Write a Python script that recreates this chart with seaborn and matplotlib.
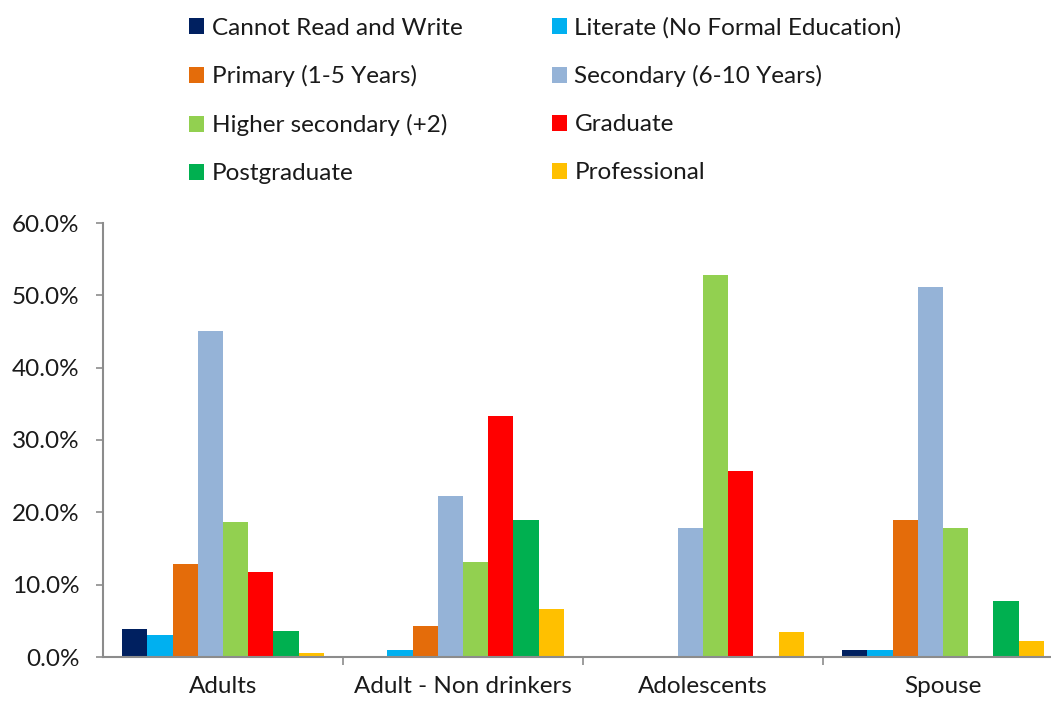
import matplotlib
matplotlib.use("Agg")
import matplotlib.pyplot as plt
import matplotlib.ticker as mticker
from matplotlib.patches import Patch
import pandas as pd
import seaborn as sns

groups = ["Adults", "Adult - Non drinkers", "Adolescents", "Spouse"]
levels = [
    "Cannot Read and Write",
    "Literate (No Formal Education)",
    "Primary (1-5 Years)",
    "Secondary (6-10 Years)",
    "Higher secondary (+2)",
    "Graduate",
    "Postgraduate",
    "Professional",
]
adults = [3.9, 3.1, 12.9, 45.1, 18.7, 11.7, 3.6, 0.5]
non_drinkers = [0.0, 1.0, 4.3, 22.2, 13.2, 33.3, 18.9, 6.6]
adolescents = [0.0, 0.0, 0.0, 17.9, 52.8, 25.7, 0.0, 3.4]
spouse = [1.0, 1.0, 18.9, 51.2, 17.8, 0.0, 7.7, 2.2]
colors = ["#002060", "#00B0F0", "#E46C0A", "#95B3D7",
          "#92D050", "#FF0000", "#00B050", "#FFC000"]
y_ticks = [0, 10, 20, 30, 40, 50, 60]

rows = []
for g, vals in zip(groups, [adults, non_drinkers, adolescents, spouse]):
    for lvl, v in zip(levels, vals):
        rows.append({"group": g, "level": lvl, "pct": v})
df = pd.DataFrame(rows)

sns.set_theme(style="white")
plt.rcParams["font.family"] = ["Lato", "DejaVu Sans"]

fs = 17.5
fig = plt.figure(figsize=(10.51, 7.02), dpi=100)
ax = fig.add_axes([103 / 1051, (702 - 657) / 702, 948 / 1051, 434 / 702])

sns.barplot(data=df, x="group", y="pct", hue="level", order=groups,
            hue_order=levels, palette=colors, width=0.84, gap=0,
            saturation=1, linewidth=0, ax=ax, legend=False)

ax.set_ylim(0, 60)
ax.set_xlim(-0.5, -0.5 + 948 / 240)
ax.set_yticks(y_ticks)
ax.yaxis.set_major_formatter(mticker.FuncFormatter(lambda v, p: f"{v:.1f}%"))
ax.set_xlabel("")
ax.set_ylabel("")

for side in ["top", "right"]:
    ax.spines[side].set_visible(False)
for side in ["left", "bottom"]:
    ax.spines[side].set_color("#8C8C8C")
    ax.spines[side].set_linewidth(1.5)

ax.tick_params(axis="y", which="major", left=True, length=5, width=1.2,
               color="#8C8C8C", pad=12, labelsize=fs, labelcolor="#1a1a1a")
ax.tick_params(axis="x", which="major", bottom=False, length=0, pad=13.5,
               labelsize=fs, labelcolor="#1a1a1a")
ax.set_xticks([0.5, 1.5, 2.5], minor=True)
ax.tick_params(axis="x", which="minor", bottom=True, length=6, width=1.2,
               color="#8C8C8C")

handles = [Patch(facecolor=c, edgecolor="none") for c in colors]
order = [0, 2, 4, 6, 1, 3, 5, 7]
fig.legend([handles[i] for i in order], [levels[i] for i in order],
           ncol=2, loc="upper left", bbox_to_anchor=(189 / 1051, 1 - 17 / 702),
           frameon=False, fontsize=fs, handlelength=0.62, handleheight=0.62,
           handletextpad=0.32, labelspacing=1.105, columnspacing=3.66,
           borderaxespad=0, borderpad=0, labelcolor="#1a1a1a")

fig.savefig("out.png", dpi=100)
